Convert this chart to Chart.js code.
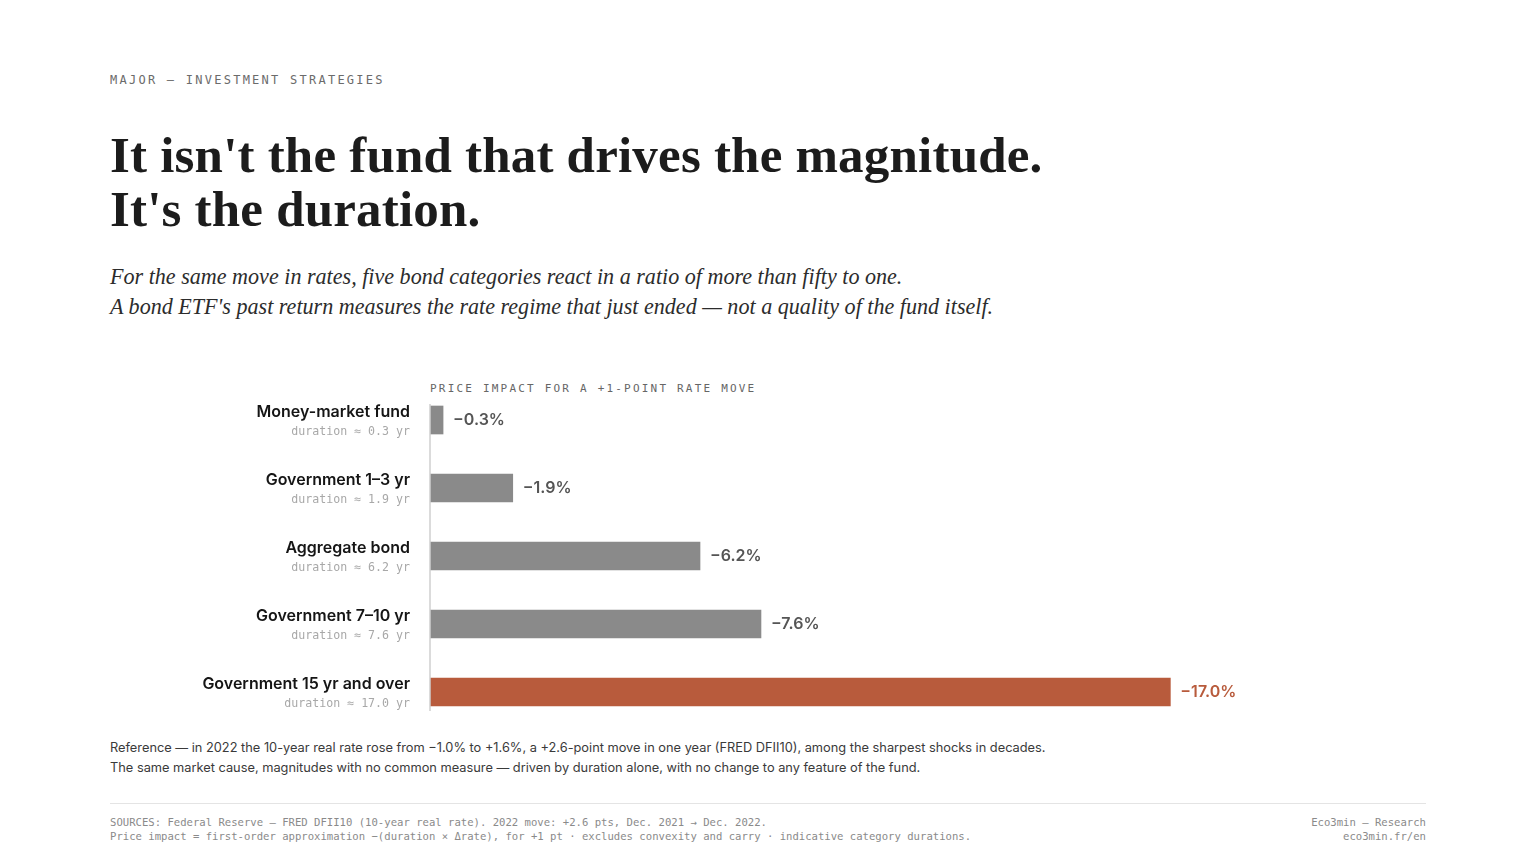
<!DOCTYPE html>
<html>
<head>
<meta charset="utf-8">
<script src="https://cdn.jsdelivr.net/npm/chart.js@4"></script>
<style>
  html, body { margin: 0; padding: 0; background: #fff; }
  body { width: 1536px; height: 864px; position: relative; overflow: hidden; color: #1a1a1a; }
  .mono { font-family: "DejaVu Sans Mono", "Liberation Mono", monospace; }
  #kicker { position: absolute; left: 110px; top: 73px; font-size: 12px; letter-spacing: 2.25px; color: #6b6b6b; }
  h1 { position: absolute; left: 110px; top: 128px; margin: 0; font-family: "Liberation Serif", "DejaVu Serif", serif; font-weight: 700; font-size: 51px; line-height: 54px; color: #1c1c1c; letter-spacing: 0.2px; }
  #sub { position: absolute; left: 110px; top: 262px; margin: 0; font-family: "Liberation Serif", "DejaVu Serif", serif; font-style: italic; font-size: 22.1px; line-height: 30px; color: #2c2c2c; }
  #ctitle { position: absolute; left: 430px; top: 382px; font-size: 11px; letter-spacing: 2.2px; color: #666; }
  #wrap { position: absolute; left: 110px; top: 386px; width: 1316px; height: 340px; }
  #note { position: absolute; left: 110px; top: 738px; font-family: Inter, "Noto Sans", sans-serif; font-size: 12.8px; line-height: 20px; color: #3a3a3a; }
  #rule { position: absolute; left: 110px; top: 803px; width: 1316px; height: 1px; background: #e4e4e4; }
  #src { position: absolute; left: 110px; top: 815px; font-size: 10.6px; line-height: 14px; color: #8a8a8a; }
  #brand { position: absolute; right: 110px; top: 815px; font-size: 10.6px; line-height: 14px; color: #8a8a8a; text-align: right; }
</style>
</head>
<body>
<div id="kicker" class="mono">MAJOR — INVESTMENT STRATEGIES</div>
<h1>It isn't the fund that drives the magnitude.<br>It's the duration.</h1>
<p id="sub">For the same move in rates, five bond categories react in a ratio of more than fifty to one.<br>A bond ETF's past return measures the rate regime that just ended — not a quality of the fund itself.</p>
<div id="ctitle" class="mono">PRICE IMPACT FOR A +1-POINT RATE MOVE</div>
<div id="wrap"><canvas id="chart"></canvas></div>
<div id="note">Reference — in 2022 the 10-year real rate rose from −1.0% to +1.6%, a +2.6-point move in one year (FRED DFII10), among the sharpest shocks in decades.<br>The same market cause, magnitudes with no common measure — driven by duration alone, with no change to any feature of the fund.</div>
<div id="rule"></div>
<div id="src" class="mono">SOURCES: Federal Reserve — FRED DFII10 (10-year real rate). 2022 move: +2.6 pts, Dec. 2021 → Dec. 2022.<br>Price impact = first-order approximation −(duration × Δrate), for +1 pt · excludes convexity and carry · indicative category durations.</div>
<div id="brand" class="mono">Eco3min — Research<br>eco3min.fr/en</div>

<script>
// categories and values
const categories = ['Money-market fund', 'Government 1–3 yr', 'Aggregate bond', 'Government 7–10 yr', 'Government 15 yr and over'];
const durations = ['0.3', '1.9', '6.2', '7.6', '17.0'];
const impacts = [-0.3, -1.9, -6.2, -7.6, -17.0];
const valueLabels = ['−0.3%', '−1.9%', '−6.2%', '−7.6%', '−17.0%'];

const GRAY = '#8a8a8a';
const ACCENT = '#b85b3c';
const barColors = impacts.map((v, i) => i === impacts.length - 1 ? ACCENT : GRAY);

// category names + durations on the left, value labels at bar ends, axis line
const labelsPlugin = {
  id: 'labels',
  afterDatasetsDraw(chart) {
    const ctx = chart.ctx;
    const xs = chart.scales.x;
    const ys = chart.scales.y;
    const left = chart.chartArea.left;
    ctx.save();

    // vertical axis line
    const top = ys.getPixelForValue(0) - 16;
    const bottom = ys.getPixelForValue(categories.length - 1) + 19;
    ctx.strokeStyle = '#cfcfcf';
    ctx.lineWidth = 1.5;
    ctx.beginPath();
    ctx.moveTo(left, top);
    ctx.lineTo(left, bottom);
    ctx.stroke();

    categories.forEach((name, i) => {
      const y = ys.getPixelForValue(i);
      ctx.textAlign = 'right';
      ctx.textBaseline = 'middle';
      ctx.fillStyle = '#151515';
      ctx.font = '600 16px Inter, "Noto Sans", sans-serif';
      ctx.fillText(name, left - 20, y - 8);
      ctx.fillStyle = '#a8a8a8';
      ctx.font = '11.6px "DejaVu Sans Mono", monospace';
      ctx.fillText('duration ≈ ' + durations[i] + ' yr', left - 20, y + 12);

      const xEnd = xs.getPixelForValue(impacts[i]);
      const last = i === categories.length - 1;
      ctx.textAlign = 'left';
      ctx.fillStyle = last ? ACCENT : '#555';
      ctx.font = '600 16px Inter, "Noto Sans", sans-serif';
      ctx.fillText(valueLabels[i], xEnd + 10, y);
    });
    ctx.restore();
  }
};

new Chart(document.getElementById('chart'), {
  type: 'bar',
  data: {
    labels: categories,
    datasets: [{
      data: impacts,
      backgroundColor: barColors,
      barThickness: 28,
      borderWidth: 0
    }]
  },
  options: {
    indexAxis: 'y',
    responsive: true,
    maintainAspectRatio: false,
    animation: false,
    layout: { padding: { left: 320, right: 125, top: 0, bottom: 0 } },
    plugins: { legend: { display: false }, tooltip: { enabled: false } },
    scales: {
      x: { min: -20, max: 0, reverse: true, display: false },
      y: { display: false }
    }
  },
  plugins: [labelsPlugin]
});
</script>
</body>
</html>
